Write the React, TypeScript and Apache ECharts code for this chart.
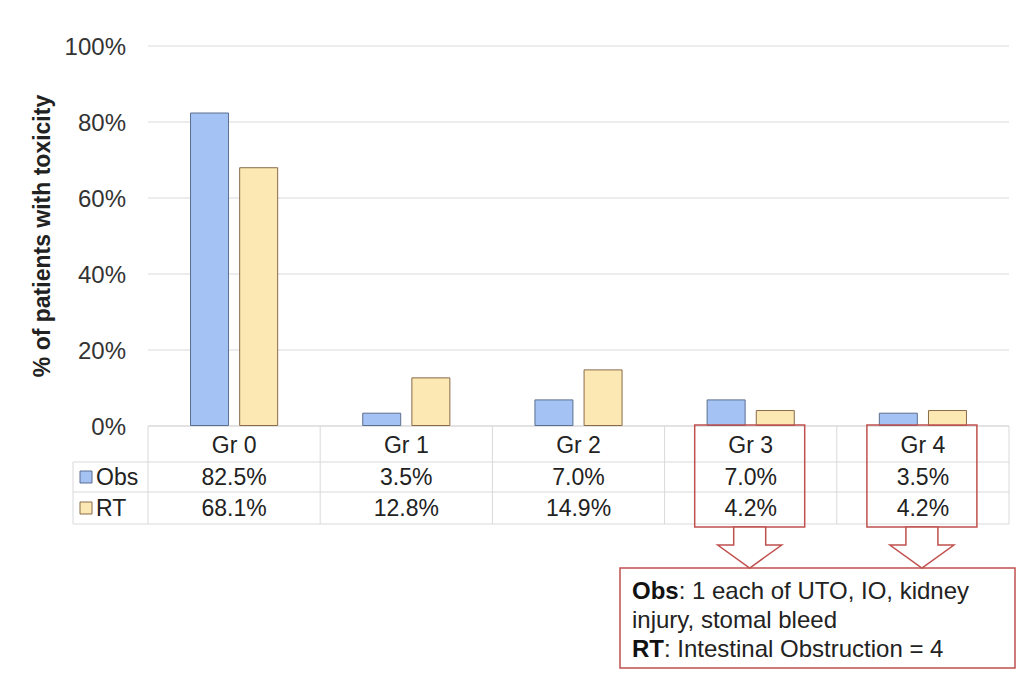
import React, { useEffect, useRef } from "react";
import * as echarts from "echarts";

const categories = ["Gr 0", "Gr 1", "Gr 2", "Gr 3", "Gr 4"];
const obsValues = [82.5, 3.5, 7.0, 7.0, 3.5];
const rtValues = [68.1, 12.8, 14.9, 4.2, 4.2];
const yTicks = [0, 20, 40, 60, 80, 100];
const seriesNames = ["Obs", "RT"];
const highlighted = ["Gr 3", "Gr 4"];
const noteLines = [
  { bold: "Obs", rest: ": 1 each of UTO, IO, kidney" },
  { bold: "", rest: "injury, stomal bleed" },
  { bold: "RT", rest: ": Intestinal Obstruction = 4" },
];

const BLUE = "#a4c2f4";
const YELLOW = "#fce8b2";
const RED = "#c0504d";
const GRID_LINE = "#d9d9d9";
const FONT = "Liberation Sans, Arial, sans-serif";

export default function App() {
  const ref = useRef<HTMLDivElement>(null);
  useEffect(() => {
    if (!ref.current) return;
    const chart = echarts.init(ref.current, null, { renderer: "svg" });
    const gridLeft = 148;
    const gridRight = 1009;
    const gridTop = 46;
    const gridBottomY = 426;
    chart.setOption({
      animation: false,
      backgroundColor: "#ffffff",
      grid: { left: gridLeft, right: 1029 - gridRight, top: gridTop, bottom: 677 - gridBottomY },
      xAxis: {
        type: "category",
        data: categories,
        axisLine: { show: false },
        axisTick: { show: false },
        axisLabel: { show: false },
      },
      yAxis: {
        type: "value",
        min: 0,
        max: 100,
        interval: 20,
        name: "% of patients with toxicity",
        nameLocation: "middle",
        nameGap: 91,
        nameTextStyle: { fontFamily: FONT, fontSize: 23, fontWeight: "bold", color: "#222" },
        axisLabel: {
          formatter: (v: number) => (yTicks.includes(v) ? v + "%" : ""),
          fontFamily: FONT,
          fontSize: 24,
          color: "#333",
          margin: 22,
        },
        splitLine: { lineStyle: { color: "#ececec", width: 2 } },
        axisLine: { show: false },
        axisTick: { show: false },
      },
      series: [
        {
          name: seriesNames[0],
          type: "bar",
          data: obsValues,
          barWidth: 39,
          barGap: "26%",
          itemStyle: { color: BLUE, borderColor: "#5b6f8f", borderWidth: 1 },
        },
        {
          name: seriesNames[1],
          type: "bar",
          data: rtValues,
          barWidth: 39,
          itemStyle: { color: YELLOW, borderColor: "#8a6a4a", borderWidth: 1 },
        },
      ],
    });

    const centers = categories.map((c) => chart.convertToPixel({ xAxisIndex: 0 }, c) as number);
    const half = (centers[1] - centers[0]) / 2;
    const colEdges = [centers[0] - half, ...centers.map((c) => c + half)];
    const legendLeft = 73;
    const rowTop = gridBottomY;
    const rowHeader = 462;
    const rowObs = 492;
    const rowRt = 524;
    const elems: any[] = [];
    const line = (x1: number, y1: number, x2: number, y2: number) =>
      elems.push({ type: "line", shape: { x1, y1, x2, y2 }, style: { stroke: GRID_LINE, lineWidth: 1 }, z: 1 });
    line(colEdges[0], rowTop, colEdges[colEdges.length - 1], rowTop);
    line(legendLeft, rowHeader, colEdges[colEdges.length - 1], rowHeader);
    line(legendLeft, rowObs, colEdges[colEdges.length - 1], rowObs);
    line(legendLeft, rowRt, colEdges[colEdges.length - 1], rowRt);
    line(legendLeft, rowHeader, legendLeft, rowRt);
    colEdges.forEach((x) => line(x, rowTop, x, rowRt));

    const txt = (x: number, y: number, s: string, align = "center") =>
      elems.push({
        type: "text",
        x,
        y,
        style: { text: s, fontFamily: FONT, fontSize: 23, fill: "#222", align, verticalAlign: "middle" },
        z: 5,
      });
    categories.forEach((c, i) => {
      txt(centers[i], (rowTop + rowHeader) / 2 + 1, c);
      txt(centers[i], (rowHeader + rowObs) / 2, obsValues[i].toFixed(1) + "%");
      txt(centers[i], (rowObs + rowRt) / 2, rtValues[i].toFixed(1) + "%");
    });
    [
      { y: (rowHeader + rowObs) / 2, color: BLUE, stroke: "#5b6f8f", name: seriesNames[0] },
      { y: (rowObs + rowRt) / 2, color: YELLOW, stroke: "#8a6a4a", name: seriesNames[1] },
    ].forEach((k) => {
      elems.push({
        type: "rect",
        shape: { x: 80, y: k.y - 6, width: 12, height: 12 },
        style: { fill: k.color, stroke: k.stroke, lineWidth: 1 },
        z: 5,
      });
      txt(96, k.y, k.name, "left");
    });

    const boxTop = 425;
    const boxBottom = 527;
    const noteTop = 568;
    highlighted.forEach((c) => {
      const i = categories.indexOf(c);
      const cx = centers[i] - 1;
      elems.push({
        type: "rect",
        shape: { x: cx - 55, y: boxTop, width: 110, height: boxBottom - boxTop },
        style: { fill: "none", stroke: RED, lineWidth: 1.5 },
        z: 6,
      });
      const sh = 16;
      const hh = 32;
      const headY = 545;
      elems.push({
        type: "polygon",
        shape: {
          points: [
            [cx - sh, boxBottom],
            [cx + sh, boxBottom],
            [cx + sh, headY],
            [cx + hh, headY],
            [cx, noteTop],
            [cx - hh, headY],
            [cx - sh, headY],
          ],
        },
        style: { fill: "#ffffff", stroke: RED, lineWidth: 1.5 },
        z: 6,
      });
    });
    elems.push({
      type: "rect",
      shape: { x: 620, y: noteTop, width: 395, height: 100 },
      style: { fill: "#ffffff", stroke: RED, lineWidth: 1.5 },
      z: 5,
    });
    noteLines.forEach((l, j) => {
      const y = 590 + j * 29;
      elems.push({
        type: "text",
        x: 632,
        y,
        style: {
          text: l.bold ? `{b|${l.bold}}{r|${l.rest}}` : `{r|${l.rest}}`,
          verticalAlign: "middle",
          rich: {
            b: { fontFamily: FONT, fontSize: 24, fontWeight: "bold", fill: "#111" },
            r: { fontFamily: FONT, fontSize: 24, fill: "#222" },
          },
        },
        z: 7,
      });
    });
    chart.setOption({ graphic: { elements: elems } });
    return () => chart.dispose();
  }, []);
  return (
    <div
      ref={ref}
      style={{ position: "fixed", left: 0, top: 0, width: 1029, height: 677, background: "#fff" }}
    />
  );
}
